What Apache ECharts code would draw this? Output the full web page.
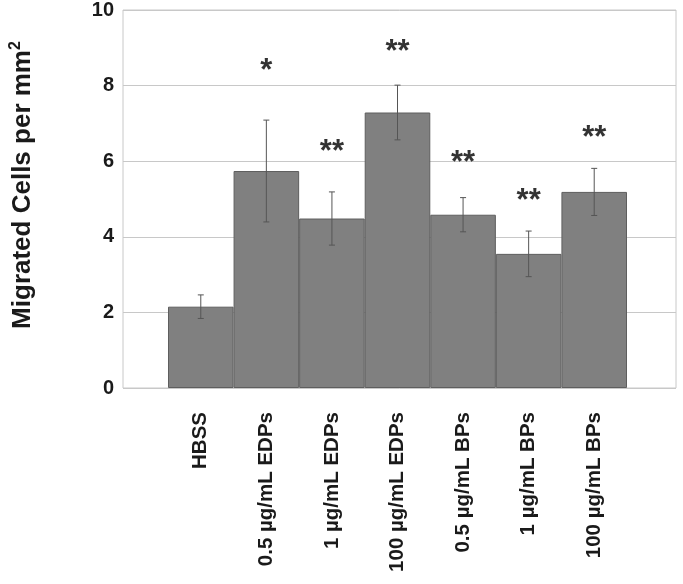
<!DOCTYPE html>
<html><head><meta charset="utf-8">
<script src="https://cdn.jsdelivr.net/npm/echarts@6/dist/echarts.min.js"></script>
<style>html,body{margin:0;padding:0;background:#fff}#c{width:683px;height:584px}</style>
</head><body><div id="c"></div>
<script>
const categories = ['HBSS','0.5 µg/mL EDPs','1 µg/mL EDPs','100 µg/mL EDPs','0.5 µg/mL BPs','1 µg/mL BPs','100 µg/mL BPs'];
const means = [2.14, 5.71, 4.46, 7.25, 4.56, 3.53, 5.16];
const errors = [0.31, 1.34, 0.70, 0.72, 0.45, 0.60, 0.62];
const sigLabels = ['', '*', '**', '**', '**', '**', '**'];
const sigHeights = [null, 8.45, 6.34, 8.97, 6.03, 5.03, 6.71];
const yTicks = [0, 2, 4, 6, 8, 10];

const chart = echarts.init(document.getElementById('c'));
const FONT = 'Liberation Sans, Arial, sans-serif';
chart.setOption({
  animation: false,
  grid: [
    {left: 119, right: 7, top: 8, bottom: 196, show: true, borderColor: '#c8c8c8', borderWidth: 1, backgroundColor: 'transparent'},
    {left: 168, right: 56, top: 8, bottom: 196}
  ],
  xAxis: [
    {gridIndex: 0, type: 'category', data: [], show: false},
    {gridIndex: 1, type: 'category', data: categories, axisLine: {show: false}, axisTick: {show: false},
     axisLabel: {rotate: 90, margin: 24, interval: 0, fontFamily: FONT, fontWeight: 'bold', fontSize: 20.5, color: '#1a1a1a'}}
  ],
  yAxis: [
    {gridIndex: 0, type: 'value', min: 0, max: 10, interval: 2,
     axisLine: {show: false}, axisTick: {show: false},
     splitLine: {lineStyle: {color: '#c8c8c8', width: 1}},
     axisLabel: {margin: 9, fontFamily: FONT, fontWeight: 'bold', fontSize: 20, color: '#1a1a1a',
       formatter: v => yTicks.includes(v) ? String(v) : ''},
     name: '{a|Migrated Cells per mm}{s|2}', nameLocation: 'middle', nameGap: 85,
     nameTextStyle: {padding: [0, 0, 0, 28], rich: {
       a: {fontFamily: FONT, fontWeight: 'bold', fontSize: 26, color: '#1a1a1a', lineHeight: 30},
       s: {fontFamily: FONT, fontWeight: 'bold', fontSize: 16, color: '#1a1a1a', lineHeight: 30, verticalAlign: 'top'}
     }}},
    {gridIndex: 1, type: 'value', min: 0, max: 10, show: false}
  ],
  series: [
    {type: 'bar', xAxisIndex: 1, yAxisIndex: 1, data: means, barCategoryGap: 0,
     itemStyle: {color: '#808080', borderColor: '#5e5e5e', borderWidth: 1}},
    {type: 'custom', xAxisIndex: 1, yAxisIndex: 1, z: 5,
     data: means.map((m, i) => [i, m, errors[i]]),
     renderItem: function (params, api) {
       const i = api.value(0), m = api.value(1), e = api.value(2);
       const top = api.coord([i, m + e]);
       const bot = api.coord([i, m - e]);
       const hw = 3;
       const st = {stroke: '#555', lineWidth: 1};
       return {type: 'group', children: [
         {type: 'line', shape: {x1: top[0], y1: top[1], x2: bot[0], y2: bot[1]}, style: st},
         {type: 'line', shape: {x1: top[0]-hw, y1: top[1], x2: top[0]+hw, y2: top[1]}, style: st},
         {type: 'line', shape: {x1: bot[0]-hw, y1: bot[1], x2: bot[0]+hw, y2: bot[1]}, style: st}
       ]};
     }},
    {type: 'scatter', xAxisIndex: 1, yAxisIndex: 1, symbolSize: 0, z: 6,
     data: sigHeights.map((h, i) => h == null ? null : {value: [i, h], label: {formatter: sigLabels[i]}}),
     label: {show: true, position: 'inside', offset: [0, 5], fontFamily: FONT, fontWeight: 'bold', fontSize: 31, color: '#000'}}
  ]
});
</script></body></html>
